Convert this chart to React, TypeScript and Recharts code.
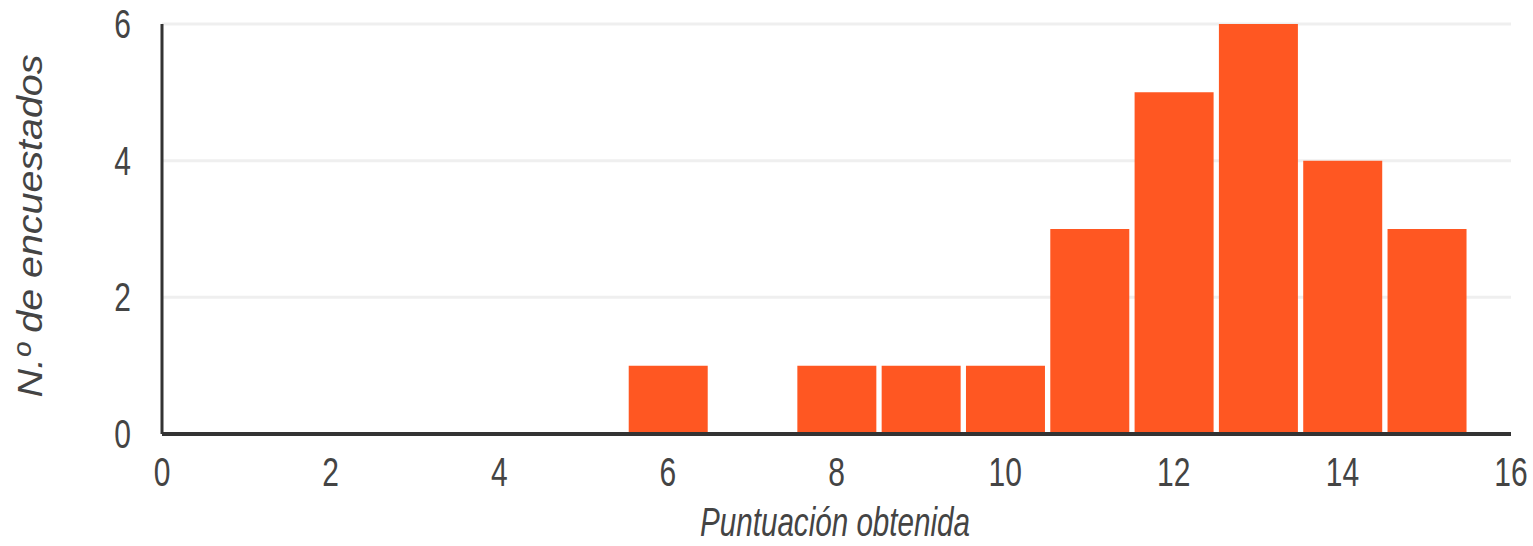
import React from 'react';
import { BarChart, Bar, XAxis, YAxis, CartesianGrid, Label } from 'recharts';

const puntuaciones = [6, 8, 9, 10, 11, 12, 13, 14, 15];
const encuestados = [1, 1, 1, 1, 3, 5, 6, 4, 3];
const xTicks = [0, 2, 4, 6, 8, 10, 12, 14, 16];
const yTicks = [0, 2, 4, 6];

const xTitle = 'Puntuación obtenida';
const yTitle = 'N.º de encuestados';

const chartData = puntuaciones.map((p, i) => ({ puntuacion: p, encuestados: encuestados[i] }));

const FONT = '"Liberation Sans", Arial, sans-serif';
const TEXT_COLOR = '#444';

const XTick = ({ x, payload }: any) => (
  <text
    transform={`translate(${x}, 486) scale(0.75, 1)`}
    textAnchor="middle"
    fontFamily={FONT}
    fontSize={40}
    fill={TEXT_COLOR}
  >
    {payload.value}
  </text>
);

const YTick = ({ y, payload }: any) => (
  <text
    transform={`translate(131, ${y + 14}) scale(0.75, 1)`}
    textAnchor="end"
    fontFamily={FONT}
    fontSize={40}
    fill={TEXT_COLOR}
  >
    {payload.value}
  </text>
);

const XTitle = () => (
  <text
    x={835}
    y={536}
    textAnchor="middle"
    fontFamily={FONT}
    fontStyle="italic"
    fontSize={40}
    fill={TEXT_COLOR}
    textLength={270}
    lengthAdjust="spacingAndGlyphs"
  >
    {xTitle}
  </text>
);

const YTitle = () => (
  <text
    x={42}
    y={226}
    transform="rotate(-90, 42, 226)"
    textAnchor="middle"
    fontFamily={FONT}
    fontStyle="italic"
    fontSize={35}
    fill={TEXT_COLOR}
    textLength={343}
    lengthAdjust="spacingAndGlyphs"
  >
    {yTitle}
  </text>
);

const App: React.FC = () => {
  return (
    <div style={{ position: 'absolute', left: 0, top: 0, background: '#fff' }}>
      <BarChart
        width={1533}
        height={546}
        data={chartData}
        margin={{ top: 24, right: 22, left: 0, bottom: 0 }}
      >
        <CartesianGrid vertical={false} stroke="#efefef" strokeWidth={3} />
        <XAxis
          dataKey="puntuacion"
          type="number"
          domain={[0, 16]}
          ticks={xTicks}
          interval={0}
          height={112}
          tickLine={false}
          axisLine={{ stroke: '#333', strokeWidth: 4 }}
          tick={<XTick />}
        >
          <Label content={<XTitle />} />
        </XAxis>
        <YAxis
          type="number"
          domain={[0, 6]}
          ticks={yTicks}
          interval={0}
          width={162}
          tickLine={false}
          axisLine={{ stroke: '#333', strokeWidth: 3 }}
          tick={<YTick />}
        >
          <Label content={<YTitle />} />
        </YAxis>
        <Bar dataKey="encuestados" fill="#ff5722" barSize={79} isAnimationActive={false} />
      </BarChart>
    </div>
  );
};

export default App;
